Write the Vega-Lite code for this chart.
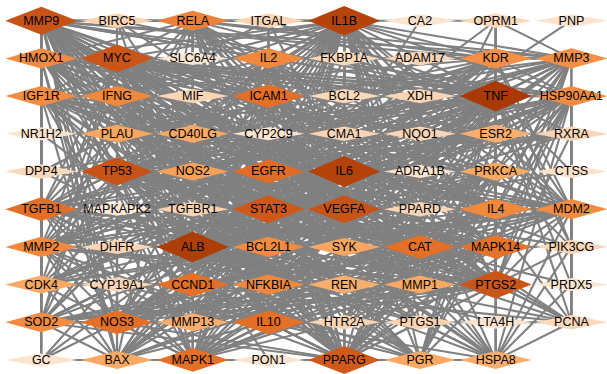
{
"$schema":"https://vega.github.io/schema/vega-lite/v6.json",
"width":607,"height":374,
"autosize":{"type":"fit","contains":"padding"},
"padding":0,
"background":"white",
"config":{"view":{"stroke":null}},
"datasets":{
"nodes":[
{"id":"MMP9","col":0,"row":0,"degree":47},{"id":"BIRC5","col":1,"row":0,"degree":10},{"id":"RELA","col":2,"row":0,"degree":31},{"id":"ITGAL","col":3,"row":0,"degree":9},{"id":"IL1B","col":4,"row":0,"degree":55},{"id":"CA2","col":5,"row":0,"degree":3},{"id":"OPRM1","col":6,"row":0,"degree":8},{"id":"PNP","col":7,"row":0,"degree":3},
{"id":"HMOX1","col":0,"row":1,"degree":28},{"id":"MYC","col":1,"row":1,"degree":46},{"id":"SLC6A4","col":2,"row":1,"degree":2},{"id":"IL2","col":3,"row":1,"degree":29},{"id":"FKBP1A","col":4,"row":1,"degree":8},{"id":"ADAM17","col":5,"row":1,"degree":9},{"id":"KDR","col":6,"row":1,"degree":27},{"id":"MMP3","col":7,"row":1,"degree":27},
{"id":"IGF1R","col":0,"row":2,"degree":28},{"id":"IFNG","col":1,"row":2,"degree":29},{"id":"MIF","col":2,"row":2,"degree":9},{"id":"ICAM1","col":3,"row":2,"degree":36},{"id":"BCL2","col":4,"row":2,"degree":8},{"id":"XDH","col":5,"row":2,"degree":9},{"id":"TNF","col":6,"row":2,"degree":60},{"id":"HSP90AA1","col":7,"row":2,"degree":28},
{"id":"NR1H2","col":0,"row":3,"degree":3},{"id":"PLAU","col":1,"row":3,"degree":20},{"id":"CD40LG","col":2,"row":3,"degree":19},{"id":"CYP2C9","col":3,"row":3,"degree":3},{"id":"CMA1","col":4,"row":3,"degree":9},{"id":"NQO1","col":5,"row":3,"degree":9},{"id":"ESR2","col":6,"row":3,"degree":18},{"id":"RXRA","col":7,"row":3,"degree":9},
{"id":"DPP4","col":0,"row":4,"degree":8},{"id":"TP53","col":1,"row":4,"degree":47},{"id":"NOS2","col":2,"row":4,"degree":22},{"id":"EGFR","col":3,"row":4,"degree":37},{"id":"IL6","col":4,"row":4,"degree":56},{"id":"ADRA1B","col":5,"row":4,"degree":3},{"id":"PRKCA","col":6,"row":4,"degree":19},{"id":"CTSS","col":7,"row":4,"degree":4},
{"id":"TGFB1","col":0,"row":5,"degree":36},{"id":"MAPKAPK2","col":1,"row":5,"degree":1},{"id":"TGFBR1","col":2,"row":5,"degree":10},{"id":"STAT3","col":3,"row":5,"degree":45},{"id":"VEGFA","col":4,"row":5,"degree":47},{"id":"PPARD","col":5,"row":5,"degree":9},{"id":"IL4","col":6,"row":5,"degree":29},{"id":"MDM2","col":7,"row":5,"degree":28},
{"id":"MMP2","col":0,"row":6,"degree":29},{"id":"DHFR","col":1,"row":6,"degree":9},{"id":"ALB","col":2,"row":6,"degree":58},{"id":"BCL2L1","col":3,"row":6,"degree":28},{"id":"SYK","col":4,"row":6,"degree":20},{"id":"CAT","col":5,"row":6,"degree":36},{"id":"MAPK14","col":6,"row":6,"degree":35},{"id":"PIK3CG","col":7,"row":6,"degree":9},
{"id":"CDK4","col":0,"row":7,"degree":19},{"id":"CYP19A1","col":1,"row":7,"degree":9},{"id":"CCND1","col":2,"row":7,"degree":36},{"id":"NFKBIA","col":3,"row":7,"degree":29},{"id":"REN","col":4,"row":7,"degree":18},{"id":"MMP1","col":5,"row":7,"degree":19},{"id":"PTGS2","col":6,"row":7,"degree":46},{"id":"PRDX5","col":7,"row":7,"degree":3},
{"id":"SOD2","col":0,"row":8,"degree":28},{"id":"NOS3","col":1,"row":8,"degree":36},{"id":"MMP13","col":2,"row":8,"degree":18},{"id":"IL10","col":3,"row":8,"degree":36},{"id":"HTR2A","col":4,"row":8,"degree":9},{"id":"PTGS1","col":5,"row":8,"degree":10},{"id":"LTA4H","col":6,"row":8,"degree":3},{"id":"PCNA","col":7,"row":8,"degree":8},
{"id":"GC","col":0,"row":9,"degree":3},{"id":"BAX","col":1,"row":9,"degree":19},{"id":"MAPK1","col":2,"row":9,"degree":36},{"id":"PON1","col":3,"row":9,"degree":3},{"id":"PPARG","col":4,"row":9,"degree":44},{"id":"PGR","col":5,"row":9,"degree":19},{"id":"HSPA8","col":6,"row":9,"degree":18}
],
"adj":[
{"s":"IL1B","t":["TNF","ALB","IL6","MMP9","MYC","TP53","STAT3","VEGFA","PTGS2","PPARG","ICAM1","EGFR","TGFB1","CAT","MAPK14","CCND1","NOS3","IL10","MAPK1","RELA","HMOX1","IL2","KDR","MMP3","IGF1R","IFNG","HSP90AA1","IL4","MDM2","MMP2","BCL2L1","NFKBIA","SOD2","PLAU","CD40LG","ESR2","NOS2","PRKCA","SYK","CDK4","REN","MMP1","MMP13","BAX","PGR","HSPA8","BIRC5","ITGAL","MIF","BCL2","XDH","CMA1","DPP4","TGFBR1","PPARD","HTR2A","PTGS1","PCNA","CA2","GC"]},
{"s":"TNF","t":["ALB","IL6","MMP9","MYC","TP53","STAT3","VEGFA","PTGS2","PPARG","ICAM1","EGFR","TGFB1","CAT","MAPK14","CCND1","NOS3","IL10","MAPK1","RELA","HMOX1","IL2","KDR","MMP3","IGF1R","IFNG","HSP90AA1","IL4","MDM2","MMP2","BCL2L1","NFKBIA","SOD2","PLAU","CD40LG","ESR2","NOS2","PRKCA","SYK","CDK4","REN","MMP1","MMP13","BAX","PGR","HSPA8","BIRC5","ITGAL","OPRM1","FKBP1A","ADAM17","MIF","BCL2","XDH","NQO1","RXRA","DPP4","TGFBR1","PIK3CG","PTGS1","HTR2A","PCNA","CTSS","PRDX5"]},
{"s":"ALB","t":["IL6","MMP9","MYC","TP53","STAT3","VEGFA","PTGS2","PPARG","ICAM1","EGFR","TGFB1","CAT","MAPK14","CCND1","NOS3","IL10","MAPK1","RELA","HMOX1","IL2","KDR","MMP3","IGF1R","IFNG","HSP90AA1","IL4","MDM2","MMP2","BCL2L1","NFKBIA","SOD2","PLAU","CD40LG","ESR2","NOS2","PRKCA","SYK","CDK4","REN","MMP1","MMP13","BAX","PGR","HSPA8","BIRC5","ADAM17","MIF","BCL2","XDH","CMA1","NQO1","RXRA","DPP4","PPARD","DHFR","CYP19A1","HTR2A","PTGS1","PCNA","NR1H2","CYP2C9","LTA4H","PON1","GC"]},
{"s":"IL6","t":["MMP9","MYC","TP53","STAT3","VEGFA","PTGS2","PPARG","ICAM1","EGFR","TGFB1","CAT","MAPK14","CCND1","NOS3","IL10","MAPK1","RELA","HMOX1","IL2","KDR","MMP3","IGF1R","IFNG","HSP90AA1","IL4","MDM2","MMP2","BCL2L1","NFKBIA","SOD2","PLAU","CD40LG","ESR2","NOS2","PRKCA","SYK","CDK4","REN","MMP1","MMP13","BAX","PGR","HSPA8","BIRC5","ITGAL","FKBP1A","MIF","BCL2","CMA1","RXRA","TGFBR1","PPARD","DHFR","PIK3CG","HTR2A","PCNA","ADRA1B","MAPKAPK2","PNP"]},
{"s":"MMP9","t":["MYC","TP53","STAT3","VEGFA","PTGS2","PPARG","ICAM1","EGFR","TGFB1","CAT","MAPK14","CCND1","NOS3","IL10","MAPK1","RELA","HMOX1","IL2","KDR","MMP3","IGF1R","IFNG","HSP90AA1","IL4","MDM2","MMP2","BCL2L1","NFKBIA","SOD2","PLAU","CD40LG","NOS2","SYK","CDK4","REN","MMP1","MMP13","BAX","PGR","BIRC5","ITGAL","MIF","DPP4","TGFBR1","CYP19A1","GC"]},
{"s":"MYC","t":["TP53","STAT3","VEGFA","PTGS2","PPARG","ICAM1","EGFR","TGFB1","CAT","MAPK14","CCND1","NOS3","IL10","MAPK1","RELA","HMOX1","IL2","KDR","MMP3","IGF1R","IFNG","HSP90AA1","IL4","MDM2","MMP2","BCL2L1","NFKBIA","SOD2","PLAU","ESR2","NOS2","PRKCA","CDK4","MMP1","BAX","HSPA8","BIRC5","BCL2","XDH","NQO1","DHFR","PCNA","SLC6A4"]},
{"s":"TP53","t":["STAT3","VEGFA","PTGS2","PPARG","ICAM1","EGFR","TGFB1","CAT","MAPK14","CCND1","NOS3","IL10","MAPK1","RELA","HMOX1","IL2","KDR","MMP3","IGF1R","IFNG","HSP90AA1","IL4","MDM2","MMP2","BCL2L1","NFKBIA","SOD2","CD40LG","ESR2","SYK","CDK4","REN","BAX","PGR","HSPA8","BIRC5","MIF","BCL2","RXRA","PIK3CG","PCNA","PRDX5"]},
{"s":"STAT3","t":["VEGFA","PTGS2","PPARG","ICAM1","EGFR","TGFB1","CAT","MAPK14","CCND1","NOS3","IL10","MAPK1","RELA","HMOX1","IL2","KDR","MMP3","IGF1R","IFNG","HSP90AA1","IL4","MDM2","MMP2","BCL2L1","NFKBIA","SOD2","PLAU","NOS2","PRKCA","SYK","MMP1","MMP13","BAX","PGR","ITGAL","FKBP1A","ADAM17","TGFBR1","PPARD","CYP19A1"]},
{"s":"VEGFA","t":["PTGS2","PPARG","ICAM1","EGFR","TGFB1","CAT","MAPK14","CCND1","NOS3","IL10","MAPK1","RELA","HMOX1","IL2","KDR","MMP3","IGF1R","IFNG","HSP90AA1","IL4","MDM2","MMP2","BCL2L1","NFKBIA","SOD2","PLAU","CD40LG","ESR2","NOS2","REN","MMP1","MMP13","HSPA8","MIF","XDH","CMA1","DPP4","HTR2A","PTGS1","CTSS"]},
{"s":"PTGS2","t":["PPARG","ICAM1","EGFR","TGFB1","CAT","MAPK14","CCND1","NOS3","IL10","MAPK1","RELA","HMOX1","IL2","KDR","MMP3","IGF1R","IFNG","HSP90AA1","IL4","MDM2","MMP2","BCL2L1","NFKBIA","SOD2","PLAU","ESR2","PRKCA","SYK","CDK4","REN","MMP13","PGR","OPRM1","NQO1","RXRA","PIK3CG","HTR2A","PTGS1","PCNA","LTA4H"]},
{"s":"PPARG","t":["ICAM1","EGFR","TGFB1","CAT","MAPK14","CCND1","NOS3","IL10","MAPK1","RELA","HMOX1","IL2","KDR","MMP3","IGF1R","IFNG","HSP90AA1","IL4","MDM2","MMP2","BCL2L1","NFKBIA","SOD2","CD40LG","NOS2","PRKCA","SYK","MMP1","BAX","PGR","HSPA8","FKBP1A","BCL2","XDH","PPARD","DHFR","PTGS1","PON1","GC"]},
{"s":"ICAM1","t":["EGFR","TGFB1","CAT","MAPK14","CCND1","NOS3","IL10","MAPK1","RELA","IL2","IFNG","MMP3","IL4","NFKBIA","SOD2","HMOX1","CD40LG","PLAU","SYK","ITGAL","MIF"]},
{"s":"EGFR","t":["TGFB1","CAT","MAPK14","CCND1","NOS3","IL10","MAPK1","KDR","IGF1R","HSP90AA1","MDM2","MMP2","BCL2L1","RELA","PRKCA","ESR2","CDK4","MMP1","ADAM17","RXRA"]},
{"s":"TGFB1","t":["CAT","MAPK14","CCND1","NOS3","IL10","MAPK1","MMP2","MMP3","IFNG","IL4","HMOX1","SOD2","KDR","PLAU","MMP1","MMP13","TGFBR1","DPP4"]},
{"s":"CAT","t":["MAPK14","CCND1","NOS3","IL10","MAPK1","HMOX1","SOD2","MDM2","BCL2L1","IGF1R","NOS2","BAX","HSPA8","XDH","NQO1","PCNA"]},
{"s":"MAPK14","t":["CCND1","NOS3","IL10","MAPK1","RELA","NFKBIA","IL4","HSP90AA1","IL2","MMP3","PRKCA","SYK","MMP13","PIK3CG","HTR2A","MAPKAPK2"]},
{"s":"CCND1","t":["NOS3","IL10","MAPK1","MDM2","BCL2L1","IGF1R","RELA","KDR","CDK4","ESR2","PGR","BAX","CYP19A1","PCNA"]},
{"s":"NOS3","t":["IL10","MAPK1","HMOX1","SOD2","KDR","HSP90AA1","MMP2","NOS2","REN","PRKCA","PTGS1","PPARD","GC"]},
{"s":"IL10","t":["MAPK1","IL2","IFNG","IL4","NFKBIA","RELA","SOD2","CD40LG","SYK","BAX","HSPA8","HTR2A","PTGS1"]},
{"s":"MAPK1","t":["RELA","IGF1R","MDM2","BCL2L1","NFKBIA","HSP90AA1","IL4","MMP2","PRKCA","CDK4","PGR","HSPA8","BAX","MMP1","PON1","GC"]},
{"s":"RELA","t":["NFKBIA","IL2","IFNG","HMOX1","IL4","BIRC5","ITGAL","KDR","MMP3","PLAU","CD40LG","NOS2","SYK","BAX","MMP1"]},
{"s":"HMOX1","t":["SOD2","IGF1R","MMP2","NQO1","XDH","IL4","HSP90AA1","NOS2","BAX","PGR","MMP1","HSPA8"]},
{"s":"IL2","t":["IFNG","IL4","CD40LG","ITGAL","FKBP1A","NFKBIA","SOD2","SYK","PRKCA","MMP13","REN","DPP4"]},
{"s":"KDR","t":["HSP90AA1","MMP2","OPRM1","MDM2","IGF1R","PRKCA","PLAU","ESR2","CDK4","HSPA8","PIK3CG"]},
{"s":"MMP3","t":["MMP2","MDM2","MMP1","MMP13","PCNA","OPRM1","IL4","NFKBIA","PLAU","REN","PGR","NOS2","ADAM17"]},
{"s":"IGF1R","t":["MDM2","HSP90AA1","ESR2","BCL2L1","CDK4","PRKCA","PGR","BAX"]},
{"s":"IFNG","t":["IL4","CD40LG","MIF","NFKBIA","SOD2","NOS2","SYK","HSPA8","MMP1","PLAU","ITGAL"]},
{"s":"HSP90AA1","t":["MDM2","BCL2L1","HSPA8","PGR","PCNA","RXRA","IL4","ESR2","PRKCA","CDK4","BAX","NOS2"]},
{"s":"IL4","t":["NFKBIA","SYK","PPARD","MDM2","CD40LG","MMP13","REN","PGR"]},
{"s":"MDM2","t":["BCL2L1","CDK4","PCNA","PIK3CG","PRDX5","NFKBIA","ESR2","BAX","HSPA8","PRKCA","FKBP1A","RXRA"]},
{"s":"MMP2","t":["MMP1","MMP13","PLAU","TGFBR1","GC","SOD2","BCL2L1","REN","CDK4","NOS2","BAX"]},
{"s":"BCL2L1","t":["BAX","BCL2","NFKBIA","CDK4","PRKCA","HSPA8","SYK","BIRC5"]},
{"s":"NFKBIA","t":["SOD2","PTGS1","SYK","NOS2","CD40LG","MMP13","PRKCA"]},
{"s":"SOD2","t":["PCNA","GC","NOS2","BAX","MMP1","REN","NQO1"]},
{"s":"PLAU","t":["MMP1","REN","MMP13"]},
{"s":"CD40LG","t":["SYK"]},
{"s":"NOS2","t":["PRKCA","REN","XDH","PTGS1"]},
{"s":"SYK","t":["PRKCA","TGFBR1"]},
{"s":"CDK4","t":["BAX"]},
{"s":"REN","t":["HTR2A","PGR","CMA1"]},
{"s":"MMP1","t":["MMP13","CMA1"]},
{"s":"CMA1","t":["MMP13","CA2","OPRM1"]},
{"s":"DHFR","t":["BAX"]},
{"s":"ESR2","t":["PGR","PRKCA","RXRA","CYP19A1"]},
{"s":"HSPA8","t":["PCNA","PIK3CG","PRDX5","LTA4H","BAX"]},
{"s":"BAX","t":["BCL2","GC"]},
{"s":"PGR","t":["HSPA8","CYP19A1","PRKCA"]},
{"s":"PRKCA","t":["OPRM1","PIK3CG","HTR2A"]},
{"s":"OPRM1","t":["HTR2A","CA2"]},
{"s":"PIK3CG","t":["PCNA"]},
{"s":"SLC6A4","t":["HTR2A"]},
{"s":"CYP2C9","t":["PTGS1"]},
{"s":"ADRA1B","t":["HTR2A"]},
{"s":"NR1H2","t":["RXRA"]}
]},
"layer":[
{"data":{"name":"adj"},
 "transform":[
  {"flatten":["t"]},
  {"lookup":"s","from":{"data":{"values":[
{"id":"MMP9","col":0,"row":0},{"id":"BIRC5","col":1,"row":0},{"id":"RELA","col":2,"row":0},{"id":"ITGAL","col":3,"row":0},{"id":"IL1B","col":4,"row":0},{"id":"CA2","col":5,"row":0},{"id":"OPRM1","col":6,"row":0},{"id":"PNP","col":7,"row":0},
{"id":"HMOX1","col":0,"row":1},{"id":"MYC","col":1,"row":1},{"id":"SLC6A4","col":2,"row":1},{"id":"IL2","col":3,"row":1},{"id":"FKBP1A","col":4,"row":1},{"id":"ADAM17","col":5,"row":1},{"id":"KDR","col":6,"row":1},{"id":"MMP3","col":7,"row":1},
{"id":"IGF1R","col":0,"row":2},{"id":"IFNG","col":1,"row":2},{"id":"MIF","col":2,"row":2},{"id":"ICAM1","col":3,"row":2},{"id":"BCL2","col":4,"row":2},{"id":"XDH","col":5,"row":2},{"id":"TNF","col":6,"row":2},{"id":"HSP90AA1","col":7,"row":2},
{"id":"NR1H2","col":0,"row":3},{"id":"PLAU","col":1,"row":3},{"id":"CD40LG","col":2,"row":3},{"id":"CYP2C9","col":3,"row":3},{"id":"CMA1","col":4,"row":3},{"id":"NQO1","col":5,"row":3},{"id":"ESR2","col":6,"row":3},{"id":"RXRA","col":7,"row":3},
{"id":"DPP4","col":0,"row":4},{"id":"TP53","col":1,"row":4},{"id":"NOS2","col":2,"row":4},{"id":"EGFR","col":3,"row":4},{"id":"IL6","col":4,"row":4},{"id":"ADRA1B","col":5,"row":4},{"id":"PRKCA","col":6,"row":4},{"id":"CTSS","col":7,"row":4},
{"id":"TGFB1","col":0,"row":5},{"id":"MAPKAPK2","col":1,"row":5},{"id":"TGFBR1","col":2,"row":5},{"id":"STAT3","col":3,"row":5},{"id":"VEGFA","col":4,"row":5},{"id":"PPARD","col":5,"row":5},{"id":"IL4","col":6,"row":5},{"id":"MDM2","col":7,"row":5},
{"id":"MMP2","col":0,"row":6},{"id":"DHFR","col":1,"row":6},{"id":"ALB","col":2,"row":6},{"id":"BCL2L1","col":3,"row":6},{"id":"SYK","col":4,"row":6},{"id":"CAT","col":5,"row":6},{"id":"MAPK14","col":6,"row":6},{"id":"PIK3CG","col":7,"row":6},
{"id":"CDK4","col":0,"row":7},{"id":"CYP19A1","col":1,"row":7},{"id":"CCND1","col":2,"row":7},{"id":"NFKBIA","col":3,"row":7},{"id":"REN","col":4,"row":7},{"id":"MMP1","col":5,"row":7},{"id":"PTGS2","col":6,"row":7},{"id":"PRDX5","col":7,"row":7},
{"id":"SOD2","col":0,"row":8},{"id":"NOS3","col":1,"row":8},{"id":"MMP13","col":2,"row":8},{"id":"IL10","col":3,"row":8},{"id":"HTR2A","col":4,"row":8},{"id":"PTGS1","col":5,"row":8},{"id":"LTA4H","col":6,"row":8},{"id":"PCNA","col":7,"row":8},
{"id":"GC","col":0,"row":9},{"id":"BAX","col":1,"row":9},{"id":"MAPK1","col":2,"row":9},{"id":"PON1","col":3,"row":9},{"id":"PPARG","col":4,"row":9},{"id":"PGR","col":5,"row":9},{"id":"HSPA8","col":6,"row":9}
]},"key":"id","fields":["col","row"]},"as":["sc","sr"]},
  {"lookup":"t","from":{"data":{"values":[
{"id":"MMP9","col":0,"row":0},{"id":"BIRC5","col":1,"row":0},{"id":"RELA","col":2,"row":0},{"id":"ITGAL","col":3,"row":0},{"id":"IL1B","col":4,"row":0},{"id":"CA2","col":5,"row":0},{"id":"OPRM1","col":6,"row":0},{"id":"PNP","col":7,"row":0},
{"id":"HMOX1","col":0,"row":1},{"id":"MYC","col":1,"row":1},{"id":"SLC6A4","col":2,"row":1},{"id":"IL2","col":3,"row":1},{"id":"FKBP1A","col":4,"row":1},{"id":"ADAM17","col":5,"row":1},{"id":"KDR","col":6,"row":1},{"id":"MMP3","col":7,"row":1},
{"id":"IGF1R","col":0,"row":2},{"id":"IFNG","col":1,"row":2},{"id":"MIF","col":2,"row":2},{"id":"ICAM1","col":3,"row":2},{"id":"BCL2","col":4,"row":2},{"id":"XDH","col":5,"row":2},{"id":"TNF","col":6,"row":2},{"id":"HSP90AA1","col":7,"row":2},
{"id":"NR1H2","col":0,"row":3},{"id":"PLAU","col":1,"row":3},{"id":"CD40LG","col":2,"row":3},{"id":"CYP2C9","col":3,"row":3},{"id":"CMA1","col":4,"row":3},{"id":"NQO1","col":5,"row":3},{"id":"ESR2","col":6,"row":3},{"id":"RXRA","col":7,"row":3},
{"id":"DPP4","col":0,"row":4},{"id":"TP53","col":1,"row":4},{"id":"NOS2","col":2,"row":4},{"id":"EGFR","col":3,"row":4},{"id":"IL6","col":4,"row":4},{"id":"ADRA1B","col":5,"row":4},{"id":"PRKCA","col":6,"row":4},{"id":"CTSS","col":7,"row":4},
{"id":"TGFB1","col":0,"row":5},{"id":"MAPKAPK2","col":1,"row":5},{"id":"TGFBR1","col":2,"row":5},{"id":"STAT3","col":3,"row":5},{"id":"VEGFA","col":4,"row":5},{"id":"PPARD","col":5,"row":5},{"id":"IL4","col":6,"row":5},{"id":"MDM2","col":7,"row":5},
{"id":"MMP2","col":0,"row":6},{"id":"DHFR","col":1,"row":6},{"id":"ALB","col":2,"row":6},{"id":"BCL2L1","col":3,"row":6},{"id":"SYK","col":4,"row":6},{"id":"CAT","col":5,"row":6},{"id":"MAPK14","col":6,"row":6},{"id":"PIK3CG","col":7,"row":6},
{"id":"CDK4","col":0,"row":7},{"id":"CYP19A1","col":1,"row":7},{"id":"CCND1","col":2,"row":7},{"id":"NFKBIA","col":3,"row":7},{"id":"REN","col":4,"row":7},{"id":"MMP1","col":5,"row":7},{"id":"PTGS2","col":6,"row":7},{"id":"PRDX5","col":7,"row":7},
{"id":"SOD2","col":0,"row":8},{"id":"NOS3","col":1,"row":8},{"id":"MMP13","col":2,"row":8},{"id":"IL10","col":3,"row":8},{"id":"HTR2A","col":4,"row":8},{"id":"PTGS1","col":5,"row":8},{"id":"LTA4H","col":6,"row":8},{"id":"PCNA","col":7,"row":8},
{"id":"GC","col":0,"row":9},{"id":"BAX","col":1,"row":9},{"id":"MAPK1","col":2,"row":9},{"id":"PON1","col":3,"row":9},{"id":"PPARG","col":4,"row":9},{"id":"PGR","col":5,"row":9},{"id":"HSPA8","col":6,"row":9}
]},"key":"id","fields":["col","row"]},"as":["tc","tr"]}
 ],
 "mark":{"type":"rule","color":"#808080","strokeWidth":2.1},
 "encoding":{
  "x":{"field":"sc","type":"quantitative","scale":{"domain":[-0.545,7.338],"nice":false,"zero":false},"axis":null},
  "y":{"field":"sr","type":"quantitative","scale":{"domain":[-0.55,9.24],"nice":false,"zero":false,"reverse":true},"axis":null},
  "x2":{"field":"tc"},
  "y2":{"field":"tr"}
 }},
{"data":{"name":"nodes"},
 "transform":[{"bin":{"extent":[0,64],"step":8},"field":"degree","as":"db"}],
 "mark":{"type":"point","filled":true,"opacity":1,"size":5184,"strokeWidth":0},
 "encoding":{
  "x":{"field":"col","type":"quantitative","axis":null},
  "y":{"field":"row","type":"quantitative","axis":null},
  "color":{"field":"degree","type":"quantitative","legend":null,"scale":{"domain":[2,10,19,28,36,46,58],"range":["#FEE6D2","#FDD3B1","#F9A964","#F28C42","#E46F26","#CA5518","#AE3E08"]}},
  "shape":{"field":"db","type":"ordinal","legend":null,"scale":{"domain":[0,8,16,24,32,40,48,56],"range":["M-1,0L0,-0.18L1,0L0,0.18Z","M-1,0L0,-0.2L1,0L0,0.2Z","M-1,0L0,-0.25L1,0L0,0.25Z","M-1,0L0,-0.28L1,0L0,0.28Z","M-1,0L0,-0.33L1,0L0,0.33Z","M-1,0L0,-0.39L1,0L0,0.39Z","M-1,0L0,-0.41L1,0L0,0.41Z","M-1,0L0,-0.43L1,0L0,0.43Z"]}}
 }},
{"data":{"name":"nodes"},
 "mark":{"type":"text","font":"Liberation Sans","fontSize":12.5,"color":"#000000"},
 "encoding":{
  "x":{"field":"col","type":"quantitative","axis":null},
  "y":{"field":"row","type":"quantitative","axis":null},
  "text":{"field":"id"}
 }}
]
}
